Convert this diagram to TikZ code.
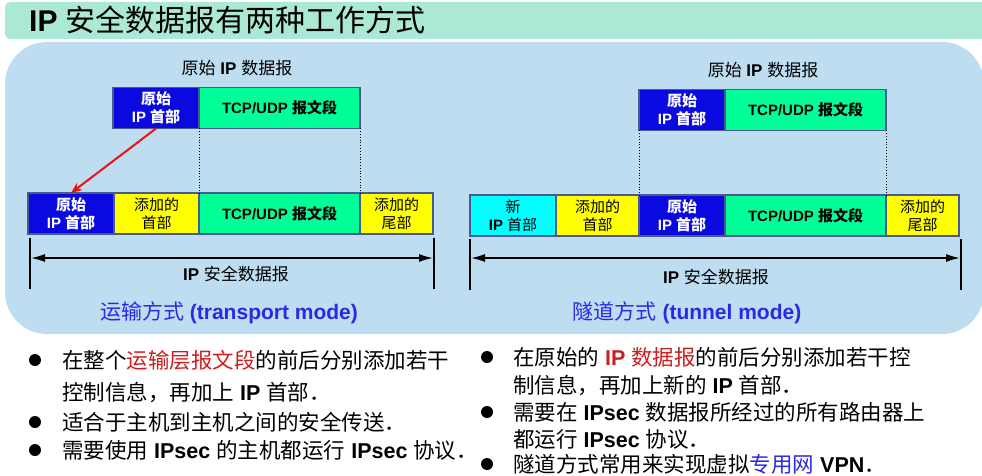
\documentclass[tikz,border=0pt]{standalone}
\usepackage{fontspec}
\setmainfont{Liberation Sans}
\newfontfamily\cjk{Noto Sans CJK SC}
\usetikzlibrary{arrows.meta,positioning}
\definecolor{barfill}{HTML}{ABE9D6}
\definecolor{panelfill}{HTML}{BEDDF1}
\definecolor{hdrblue}{HTML}{0A0AE0}
\definecolor{seggreen}{HTML}{00FF99}
\definecolor{addyellow}{HTML}{FFFF00}
\definecolor{newcyan}{HTML}{00FFFF}
\definecolor{edge}{HTML}{4A5A8C}
\definecolor{hlred}{HTML}{CC1F1F}
\definecolor{arrowred}{HTML}{F01010}
\definecolor{modeblue}{HTML}{2A2AE6}
% CJK runs: regular and bold
\newcommand{\zh}[1]{{\cjk\mdseries #1}}
\newcommand{\zhb}[1]{{\cjk\bfseries #1}}
\tikzset{
    fld/.style={draw=edge,line width=1.2pt,minimum height=41,inner sep=0pt,outer sep=0pt,align=center,font=\fontsize{15}{18}\selectfont\bfseries},
    hdr/.style={fld,fill=hdrblue,text=white,minimum width=86},
    seg/.style={fld,fill=seggreen,minimum width=161},
    addh/.style={fld,fill=addyellow,minimum width=85},
    tailf/.style={fld,fill=addyellow,minimum width=73},
    newh/.style={fld,fill=newcyan,minimum width=86},
    vbar/.style={line width=2.2pt},
    span/.style={{Latex[length=14pt,width=8pt]}-{Latex[length=14pt,width=8pt]},line width=1.6pt},
    guide/.style={dotted,line width=0.8pt},
    dot/.style={fill,circle,inner sep=0pt,outer sep=0pt,minimum size=12pt},
    txt/.style={anchor=west,inner sep=0pt,font=\fontsize{21.5}{24}\selectfont\bfseries},
}
\begin{document}
\begin{tikzpicture}[x=1pt,y=-1pt, lbl/.style={font=\fontsize{17}{20}\selectfont\bfseries}, mode/.style={font=\fontsize{21}{24}\selectfont\bfseries,text=modeblue}]
\useasboundingbox (0,0) rectangle (982,476);
% Title bar and panel
                \fill[barfill, rounded corners=5] (5,2) rectangle (995,39);
                \node[anchor=west,inner sep=0pt,font=\fontsize{30}{34}\selectfont\bfseries] (title) at (29,20) {IP \zh{安全数据报有两种工作方式}};
                \fill[panelfill, rounded corners=42] (5,42) rectangle (984,334);
% --- Transport mode (left) ---
                \node[lbl] (l-orig) at (237,68) {\zh{原始} IP \zh{数据报}};
                \node[hdr, anchor=west] (lt-hdr) at (113,108) {\zhb{原始}\\IP \zhb{首部}};
                \node[seg, right=0pt of lt-hdr] (lt-seg) {TCP/UDP \zhb{报文段}};
                \node[hdr, anchor=west] (lb-hdr) at (28,213.5) {\zhb{原始}\\IP \zhb{首部}};
                \node[addh, right=0pt of lb-hdr] (lb-add) {\zh{添加的}\\\zh{首部}};
                \node[seg, right=0pt of lb-add] (lb-seg) {TCP/UDP \zhb{报文段}};
                \node[tailf, right=0pt of lb-seg] (lb-tail) {\zh{添加的}\\\zh{尾部}};
% Guides and moved header
                \draw[guide] (lt-seg.south west) -- (lb-seg.north west);
                \draw[guide] (lt-seg.south east) -- (lb-seg.north east);
                \draw[-{Stealth[length=11pt,width=9pt]}, arrowred, line width=2pt] (lt-hdr.south) -- (lb-hdr.north);
% Span of the secure datagram
                \coordinate (l-a) at (30,238);
                \coordinate (l-b) at (434,238);
                \draw[vbar] (l-a) -- ++(0,51);
                \draw[vbar] (l-b) -- ++(0,51);
                \draw[span] ([shift={(1,20)}]l-a) -- ([shift={(-1,20)}]l-b);
                \node[lbl] (l-span) at (236,274) {IP \zh{安全数据报}};
                \node[mode] (l-mode) at (229,313) {\zh{运输方式} (transport mode)};
% --- Tunnel mode (right) ---
                \node[lbl] (r-orig) at (763,70) {\zh{原始} IP \zh{数据报}};
                \node[hdr, anchor=west] (rt-hdr) at (639,110) {\zhb{原始}\\IP \zhb{首部}};
                \node[seg, right=0pt of rt-hdr] (rt-seg) {TCP/UDP \zhb{报文段}};
                \node[newh, anchor=west] (rb-new) at (470,215.5) {\zh{新}\\IP \zh{首部}};
                \node[addh, minimum width=83, right=0pt of rb-new] (rb-add) {\zh{添加的}\\\zh{首部}};
                \node[hdr, right=0pt of rb-add] (rb-hdr) {\zhb{原始}\\IP \zhb{首部}};
                \node[seg, right=0pt of rb-hdr] (rb-seg) {TCP/UDP \zhb{报文段}};
                \node[tailf, right=0pt of rb-seg] (rb-tail) {\zh{添加的}\\\zh{尾部}};
                \draw[guide] (rt-hdr.south west) -- (rb-hdr.north west);
                \draw[guide] (rt-seg.south east) -- (rb-seg.north east);
                \coordinate (r-a) at (470,239);
                \coordinate (r-b) at (961,239);
                \draw[vbar] (r-a) -- ++(0,51);
                \draw[vbar] (r-b) -- ++(0,51);
                \draw[span] ([shift={(1,19)}]r-a) -- ([shift={(-1,19)}]r-b);
                \node[lbl] (r-span) at (716,277) {IP \zh{安全数据报}};
                \node[mode] (r-mode) at (687,313) {\zh{隧道方式} (tunnel mode)};
% --- Notes (left) ---
                \node[dot] (lb1) at (35,360) {};
                \node[txt] (lt1) at (62,360) {\zh{在整个}\textcolor{hlred}{\zh{运输层报文段}}\zh{的前后分别添加若干}};
                \node[txt] (lt1b) at (62,393) {\zh{控制信息，再加上} IP \zh{首部．}};
                \node[dot] (lb2) at (35,422) {};
                \node[txt] (lt2) at (62,422) {\zh{适合于主机到主机之间的安全传送．}};
                \node[dot] (lb3) at (35,450) {};
                \node[txt] (lt3) at (62,450) {\zh{需要使用} IPsec \zh{的主机都运行} IPsec \zh{协议．}};
% --- Notes (right) ---
                \node[dot] (rb1) at (487,357) {};
                \node[txt] (rt1) at (513,357) {\zh{在原始的} \textcolor{hlred}{IP \zh{数据报}}\zh{的前后分别添加若干控}};
                \node[txt] (rt1b) at (513,386) {\zh{制信息，再加上新的} IP \zh{首部．}};
                \node[dot] (rb2) at (487,412) {};
                \node[txt] (rt2) at (513,412) {\zh{需要在} IPsec \zh{数据报所经过的所有路由器上}};
                \node[txt] (rt2b) at (513,439) {\zh{都运行} IPsec \zh{协议．}};
                \node[dot] (rb3) at (487,464) {};
                \node[txt] (rt3) at (513,464) {\zh{隧道方式常用来实现虚拟}\textcolor{modeblue}{\zh{专用网}} VPN\zh{．}};
\end{tikzpicture}
\end{document}
